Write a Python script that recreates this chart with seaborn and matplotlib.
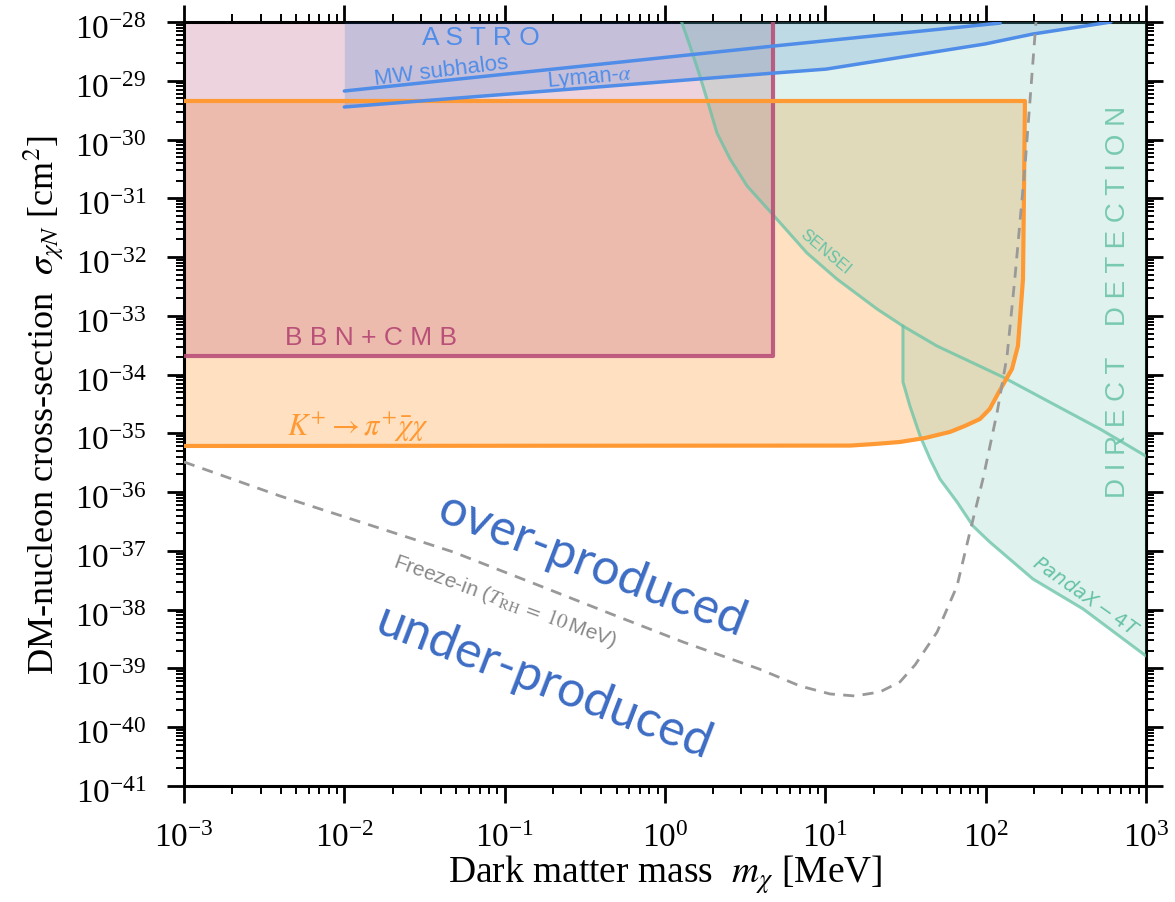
import numpy as np
import pandas as pd
import matplotlib
matplotlib.use("Agg")
import matplotlib.pyplot as plt
import matplotlib.transforms as mtransforms
import seaborn as sns
from matplotlib.ticker import LogLocator, NullFormatter

# ---------------- data (MeV, cm^2) ----------------
x_min, x_max = 1e-3, 1e3
y_min, y_max = 1e-41, 1e-28

# BBN + CMB exclusion box
bbn_mass_max = 4.72
bbn_sigma_min = 2.05e-34

# K+ -> pi+ chi chi-bar exclusion contour
kaon_mass = [1e-3, 175.9, 171.0, 159.0, 146.0, 121.0, 106.0, 92.2, 74.3, 60.0, 41.9, 29.2, 20.4,
             14.3, 1e-3]
kaon_sigma = [4.53e-30, 4.53e-30, 4.24e-33, 3.07e-34, 1.25e-34, 5.06e-35, 2.60e-35, 1.76e-35,
              1.34e-35, 1.06e-35, 8.35e-36, 7.14e-36, 6.6e-36, 6.2e-36, 6.11e-36]

# Astrophysical bounds
mw_mass = [1e-2, 4.79, 123.0]
mw_sigma = [6.70e-30, 3.91e-29, 9.6e-29]
lyman_mass = [1e-2, 4.72, 10.1, 99.0, 197.0, 604.0]
lyman_sigma = [3.58e-30, 1.35e-29, 1.58e-29, 4.23e-29, 6.25e-29, 1.0e-28]

# Direct detection
sensei_mass = [1.27, 1.276, 1.432, 1.65, 1.88, 2.11, 2.545, 3.25, 4.79, 7.69, 11.8, 21.0, 30.5,
               49.7, 128.0, 516.0, 1000.0]
sensei_sigma = [1.0e-28, 9.6e-29, 3.91e-29, 1.21e-29, 3.73e-30, 1.29e-30, 4.67e-31, 1.62e-31,
                5.0e-32, 1.17e-32, 4.24e-33, 1.31e-33, 6.7e-34, 3.07e-34, 9.1e-35, 1.19e-35, 4.1e-36]
pandax_mass = [30.5, 30.5, 33.7, 39.0, 45.0, 51.9, 66.3, 83.4, 106.0, 197.0, 405.0, 1000.0]
pandax_sigma = [6.7e-34, 7.5e-35, 2.92e-35, 9.04e-36, 3.66e-36, 1.67e-36, 6.79e-37,
                2.65e-37, 1.42e-37, 3.33e-38, 1.03e-38, 1.63e-39]

# Freeze-in relic line (T_RH = 10 MeV)
freeze_mass = [1e-3, 3.97e-3, 0.0477, 0.144, 0.429, 1.295, 3.86, 6.95, 10.7, 15.3, 21.9, 29.2,
               36.3, 49.8, 66.3, 79.8, 96.2, 118.0, 136.0, 152.0, 176.0, 206.0]
freeze_sigma = [3.26e-36, 8.6e-37, 9.6e-38, 2.96e-38, 9.14e-39, 2.82e-39, 9.8e-40, 5.03e-40,
                3.68e-40, 3.40e-40, 3.98e-40, 5.89e-40, 1.15e-39, 4.17e-39, 2.53e-38, 2.10e-37,
                1.67e-36, 2.31e-35, 2.07e-34, 4.24e-33, 3.55e-31, 1.0e-28]

# ---------------- styling ----------------
ORANGE = "#ff9933"
BBN_COL = "#b95078"
BLUE_LINE = "#4f8de8"
BLUE_FILL = "#2a6fd0"
GREEN = "#66c2a5"
TEXT_BLUE = "#3d6cc4"

sns.set_theme(style="ticks")
plt.rcParams.update({
    "font.family": ["Liberation Serif", "DejaVu Serif"],
    "mathtext.fontset": "stix",
    "text.color": "black",
    "axes.labelcolor": "black",
    "axes.linewidth": 2.2,
    "xtick.direction": "out",
    "ytick.direction": "out",
    "xtick.top": True,
    "ytick.right": True,
    "xtick.major.size": 12,
    "ytick.major.size": 12,
    "xtick.minor.size": 6,
    "ytick.minor.size": 6,
    "xtick.major.width": 2.0,
    "ytick.major.width": 2.0,
    "xtick.minor.width": 1.4,
    "ytick.minor.width": 1.4,
    "xtick.color": "black",
    "ytick.color": "black",
    "xtick.labelcolor": "black",
    "ytick.labelcolor": "black",
    "axes.edgecolor": "black",
})

fig, ax = plt.subplots(figsize=(11.75, 9.03), dpi=100)
fig.subplots_adjust(left=0.1566, right=0.9753, bottom=0.1285, top=0.9745)
ax.set_xscale("log")
ax.set_yscale("log")
ax.set_xlim(x_min, x_max)
ax.set_ylim(y_min, y_max)

# filled regions
ax.fill(kaon_mass, kaon_sigma, color=ORANGE, alpha=0.3, lw=0, zorder=1)
ax.fill_between([x_min, bbn_mass_max], bbn_sigma_min, y_max, color=BBN_COL, alpha=0.25, lw=0, zorder=2)
ax.fill_between(lyman_mass, lyman_sigma, y_max, color=BLUE_FILL, alpha=0.2, lw=0, zorder=3)
n_sensei = sensei_mass.index(30.5) + 1
dd_mass = sensei_mass[:n_sensei] + pandax_mass[1:] + [x_max]
dd_sigma = sensei_sigma[:n_sensei] + pandax_sigma[1:] + [y_max]
ax.fill(dd_mass, dd_sigma, color=GREEN, alpha=0.2, lw=0, zorder=4)

# boundary curves
line_kw = dict(ax=ax, sort=False, estimator=None, legend=False)
sns.lineplot(x=sensei_mass, y=sensei_sigma, color=GREEN, alpha=0.75, lw=2.2, zorder=5, **line_kw)
sns.lineplot(x=pandax_mass, y=pandax_sigma, color=GREEN, alpha=0.75, lw=2.2, zorder=5, **line_kw)
sns.lineplot(x=[x_min, bbn_mass_max, bbn_mass_max], y=[bbn_sigma_min, bbn_sigma_min, y_max],
             color=BBN_COL, lw=3, alpha=0.9, zorder=6, **line_kw)
sns.lineplot(x=kaon_mass, y=kaon_sigma, color=ORANGE, lw=3, zorder=7, **line_kw)
sns.lineplot(x=mw_mass, y=mw_sigma, color=BLUE_LINE, lw=2.5, zorder=8, **line_kw)
sns.lineplot(x=lyman_mass, y=lyman_sigma, color=BLUE_LINE, lw=2.5, zorder=8, **line_kw)
sns.lineplot(x=freeze_mass, y=freeze_sigma, color="#999999", lw=2, linestyle=(0, (4, 3)),
             zorder=9, **line_kw)

# ticks
ax.xaxis.set_major_locator(LogLocator(base=10, numticks=20))
ax.yaxis.set_major_locator(LogLocator(base=10, numticks=20))
ax.xaxis.set_minor_locator(LogLocator(base=10, subs=np.arange(2, 10), numticks=200))
ax.yaxis.set_minor_locator(LogLocator(base=10, subs=np.arange(2, 10), numticks=200))
ax.xaxis.set_minor_formatter(NullFormatter())
ax.yaxis.set_minor_formatter(NullFormatter())
ax.tick_params(axis="y", which="major", labelsize=24, pad=15)
ax.tick_params(axis="x", which="major", labelsize=24, pad=14)
for side in ["top", "right"]:
    ax.spines[side].set_visible(True)

ax.set_xlabel(r"Dark matter mass  $m_\chi$ [MeV]", fontsize=27, labelpad=0)
ax.set_ylabel(r"DM-nucleon cross-section  $\sigma_{\chi N}$ [cm$^2$]", fontsize=26, labelpad=6)

# annotations
sans = ["Liberation Sans", "DejaVu Sans"]
geo = ["Lato", "DejaVu Sans"]
T = dict(transform=ax.transAxes, ha="center", va="center", rotation_mode="anchor", zorder=12)
ax.text(0.309, 0.980, "A S T R O", color=BLUE_LINE, fontsize=19, family=sans, **T)
ax.text(0.267, 0.937, "MW subhalos", color=BLUE_LINE, fontsize=16, family=sans, rotation=7, **T)
ax.text(0.422, 0.927, r"Lyman-$\alpha$", color=BLUE_LINE, fontsize=15.5, family=sans, rotation=5, **T)
ax.text(0.194, 0.588, "B B N + C M B", color=BBN_COL, fontsize=19, family=sans, **T)
ax.text(0.181, 0.470, r"$K^{+} \rightarrow \pi^{+}\bar{\chi}\chi$", color=ORANGE, fontsize=22, **T)
ax.text(0.667, 0.700, "SENSEI", color=GREEN, fontsize=12, family=sans, rotation=-40, **T)
ax.text(0.937, 0.249, r"$PandaX-4T$", color=GREEN, fontsize=14, rotation=-35,
        math_fontfamily="dejavusans", **T)
ax.text(0.971, 0.635, "D I R E C T    D E T E C T I O N", color=GREEN, fontsize=20, alpha=0.85,
        family=sans, rotation=90, **T)
ax.text(0.425, 0.289, "over-produced", color=TEXT_BLUE, fontsize=36, family=geo, rotation=-21, **T)
ax.text(0.374, 0.136, "under-produced", color=TEXT_BLUE, fontsize=36, family=geo, rotation=-21, **T)
ax.text(0.334, 0.243, r"Freeze-in ($T_{\rm RH} \;=\; 10\,$MeV)", color="#888888", fontsize=15,
        family=sans, rotation=-20, **T)

# lay the ticks out once, then nudge the y tick labels a little downward
fig.canvas.draw()
nudge = mtransforms.ScaledTranslation(0, -3 / 72, fig.dpi_scale_trans)
for tick in ax.yaxis.get_major_ticks():
    tick.label1.set_transform(tick.label1.get_transform() + nudge)

fig.savefig("out.png", dpi=100)
